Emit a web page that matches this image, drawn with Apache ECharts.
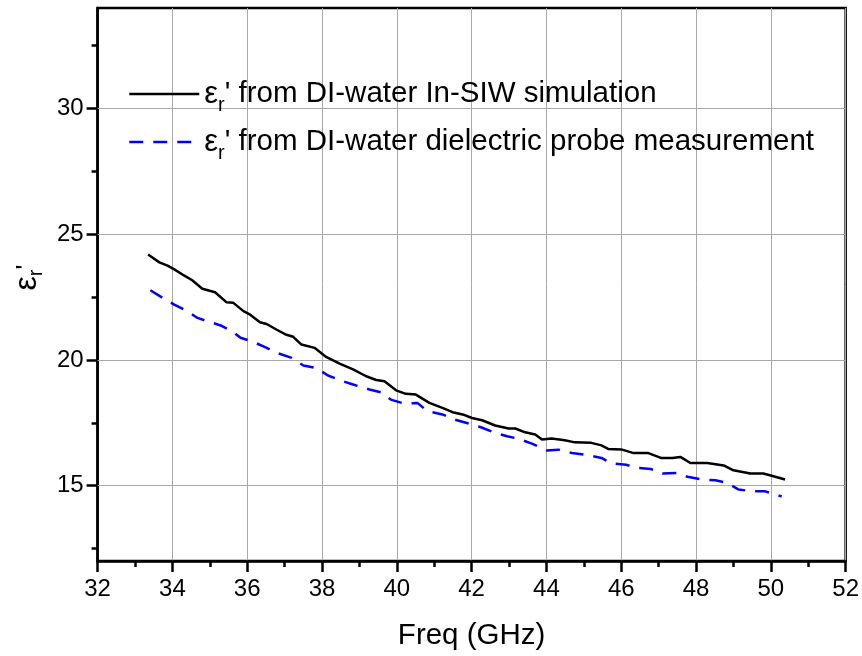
<!DOCTYPE html>
<html>
<head>
<meta charset="utf-8">
<script src="https://cdn.jsdelivr.net/npm/echarts@6/dist/echarts.min.js"></script>
<style>html,body{margin:0;padding:0;background:#fff}#c{width:862px;height:656px}</style>
</head>
<body>
<div id="c"></div>
<script>
// ---- data ----
const simFreq = [33.35,33.65,33.87,34.05,34.31,34.53,34.8,35.14,35.45,35.63,35.9,36.08,36.34,36.52,36.79,37.05,37.23,37.45,37.8,38.11,38.47,38.83,39.18,39.45,39.67,39.98,40.24,40.51,40.87,41.22,41.49,41.76,42.01,42.28,42.63,42.99,43.17,43.43,43.7,43.88,44.14,44.49,44.76,45.2,45.47,45.65,46.0,46.31,46.71,47.06,47.37,47.58,47.85,48.3,48.74,49.0,49.45,49.8,50.07,50.38];
const simEps = [24.19,23.88,23.75,23.6,23.36,23.17,22.83,22.69,22.29,22.27,21.94,21.8,21.5,21.43,21.2,21.0,20.92,20.61,20.48,20.12,19.85,19.62,19.35,19.2,19.15,18.79,18.65,18.62,18.29,18.09,17.92,17.83,17.69,17.6,17.39,17.27,17.27,17.12,17.03,16.83,16.87,16.8,16.72,16.7,16.6,16.46,16.44,16.3,16.3,16.1,16.1,16.14,15.9,15.9,15.8,15.61,15.48,15.48,15.37,15.24];
const measFreq = [33.41,33.78,34.05,34.4,34.67,35.02,35.29,35.6,35.82,36.13,36.52,36.79,37.19,37.5,37.85,38.16,38.56,38.83,39.27,39.58,39.84,40.2,40.55,40.82,41.22,41.53,41.92,42.23,42.63,42.95,43.26,43.61,44.01,44.32,44.68,45.03,45.47,45.74,46.13,46.44,46.79,47.1,47.5,47.77,48.17,48.52,48.83,49.14,49.54,49.85,50.29];
const measEps = [22.77,22.43,22.2,21.94,21.67,21.5,21.37,21.14,20.88,20.74,20.48,20.28,20.08,19.78,19.68,19.38,19.15,19.02,18.82,18.71,18.42,18.26,18.29,17.96,17.83,17.63,17.47,17.33,17.1,16.96,16.86,16.67,16.4,16.43,16.3,16.23,16.1,15.88,15.83,15.7,15.66,15.48,15.5,15.35,15.24,15.21,15.11,14.84,14.77,14.77,14.57];

const seriesNames = ["εr' from DI-water In-SIW simulation", "εr' from DI-water dielectric probe measurement"];
const legendTail = ["' from DI-water In-SIW simulation", "' from DI-water dielectric probe measurement"];
const xTitle = "Freq (GHz)";
const yMajorTicks = [15, 20, 25, 30];
const yMinorTicks = [12.5, 17.5, 22.5, 27.5, 32.5];

function zip(a, b) { const n = Math.min(a.length, b.length); const r = []; for (let i = 0; i < n; i++) r.push([a[i], b[i]]); return r; }

const FONT = 'Liberation Sans, Arial, sans-serif';
const chart = echarts.init(document.getElementById('c'), null, {renderer: 'canvas'});
const lineCol = '#000';
const gridCol = '#a8a8a8';

chart.setOption({
  animation: false,
  backgroundColor: '#fff',
  grid: {left: 93, top: 8, right: 16, bottom: 94, show: true, borderColor: '#000', borderWidth: 2.5, backgroundColor: 'transparent'},
  legend: {
    orient: 'vertical', left: 123, top: 68,
    itemWidth: 70, itemHeight: 14, itemGap: 6,
    data: seriesNames,
    itemStyle: {opacity: 0},
    lineStyle: {width: 2.5},
    formatter: function (name) {
      const i = seriesNames.indexOf(name);
      return '{e|ε}{s|r}{t|' + legendTail[i] + '}';
    },
    textStyle: {
      fontFamily: FONT, color: '#000',
      rich: {
        e: {fontSize: 31, fontFamily: FONT, color: '#000', lineHeight: 32},
        s: {fontSize: 20, fontFamily: FONT, color: '#000', lineHeight: 20, padding: [22, 0, 0, 0]},
        t: {fontSize: 29.5, fontFamily: FONT, color: '#000', lineHeight: 32}
      }
    }
  },
  xAxis: {
    type: 'value', min: 32, max: 52, interval: 2,
    name: xTitle, nameLocation: 'middle', nameGap: 60,
    nameTextStyle: {fontSize: 29.5, fontFamily: FONT, color: '#000'},
    axisLine: {show: true, lineStyle: {color: lineCol, width: 2.5}},
    axisTick: {show: true, inside: false, length: 11, lineStyle: {color: lineCol, width: 2.5}},
    minorTick: {show: true, splitNumber: 2, length: 6, lineStyle: {color: lineCol, width: 2.5}},
    splitLine: {show: true, lineStyle: {color: gridCol, width: 1}},
    axisLabel: {fontSize: 24, fontFamily: FONT, color: '#000', margin: 16}
  },
  yAxis: [{
    type: 'value', min: 12, max: 34,
    name: '{e|ε}{s|r}{p|\'}', nameLocation: 'middle', nameGap: 46, nameRotate: 90,
    nameTextStyle: {
      color: '#000', fontFamily: FONT, padding: [0, 0, 0, 14],
      rich: {
        e: {fontSize: 32, fontFamily: FONT, color: '#000', lineHeight: 30},
        s: {fontSize: 20, fontFamily: FONT, color: '#000', lineHeight: 20, padding: [18, 0, 0, 0]},
        p: {fontSize: 26, fontFamily: FONT, color: '#000', lineHeight: 30}
      }
    },
    axisLine: {show: true, lineStyle: {color: lineCol, width: 2.5}},
    axisTick: {show: true, inside: false, length: 11, customValues: yMajorTicks, lineStyle: {color: lineCol, width: 2.5}},
    axisLabel: {fontSize: 24, fontFamily: FONT, color: '#000', margin: 14, customValues: yMajorTicks},
    splitLine: {show: false},
    minorTick: {show: false}
  }, {
    type: 'value', min: 12, max: 34, position: 'left', offset: 0,
    axisLine: {show: false},
    axisTick: {show: true, inside: false, length: 6, customValues: yMinorTicks, lineStyle: {color: lineCol, width: 2.5}},
    axisLabel: {show: false},
    splitLine: {show: false}
  }],
  series: [{
    name: seriesNames[0], type: 'line', xAxisIndex: 0, yAxisIndex: 0,
    data: zip(simFreq, simEps), showSymbol: false, symbol: 'none', z: 3,
    lineStyle: {color: '#000', width: 2.5},
    itemStyle: {color: '#000'},
    markLine: {
      silent: true, symbol: ['none', 'none'], z: 1, animation: false,
      label: {show: false},
      lineStyle: {color: gridCol, width: 1, type: 'solid'},
      emphasis: {disabled: true},
      data: yMajorTicks.map(v => ({yAxis: v}))
    }
  }, {
    name: seriesNames[1], type: 'line', xAxisIndex: 0, yAxisIndex: 0,
    data: zip(measFreq, measEps), showSymbol: false, symbol: 'none', z: 3,
    lineStyle: {color: '#0000ff', width: 2.5, type: [14, 10]},
    itemStyle: {color: '#0000ff'}
  }]
});
</script>
</body>
</html>
